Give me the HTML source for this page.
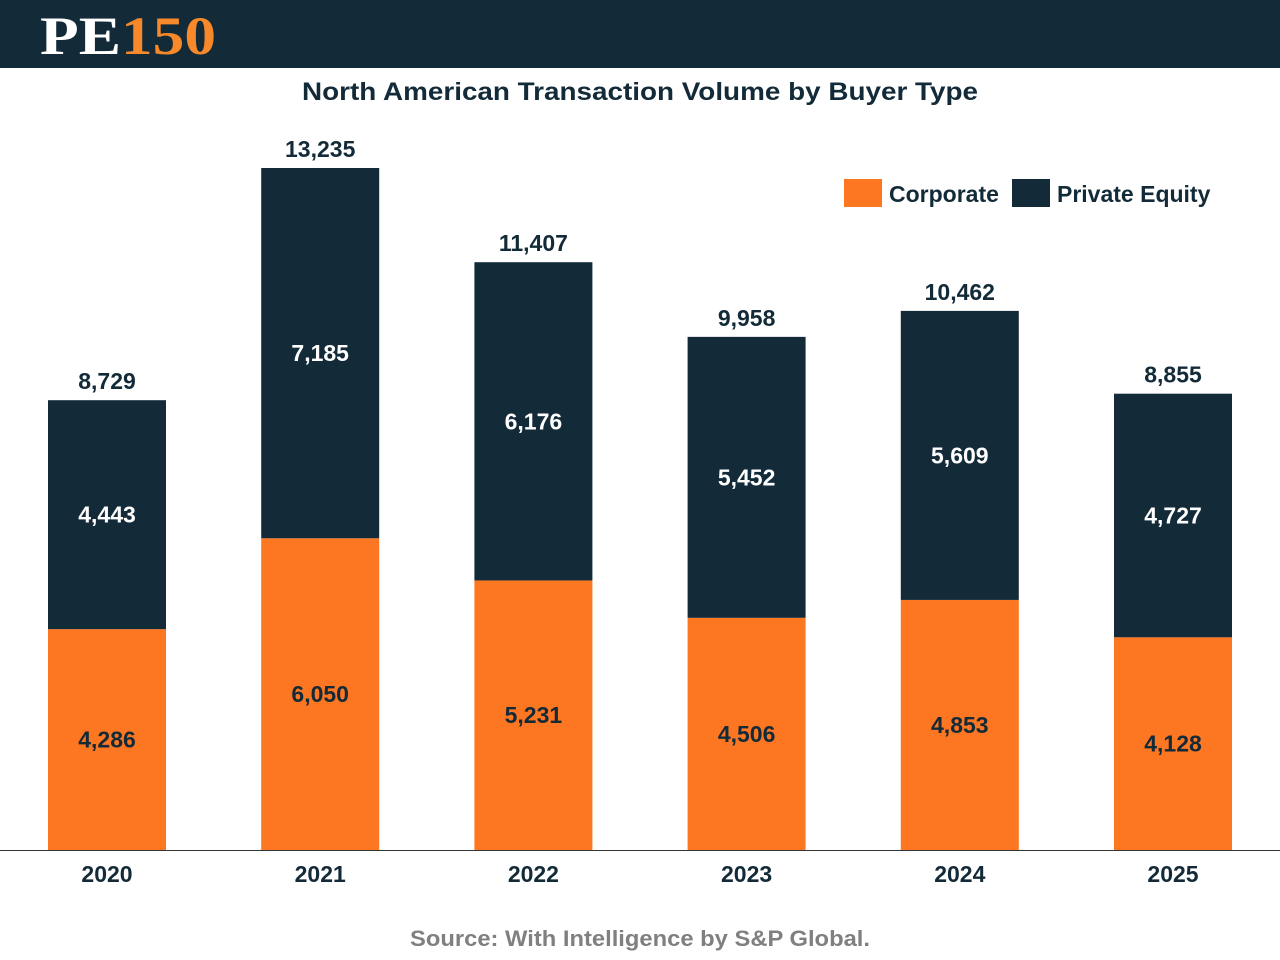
<!DOCTYPE html>
<html><head><meta charset="utf-8"><style>
body{margin:0;width:1280px;height:960px;background:#fff;font-family:"Liberation Sans",sans-serif;overflow:hidden}
#hdr{position:absolute;left:0;top:0;width:1280px;height:68px;background:#132a38}
</style></head><body>
<svg id="chart" width="1280" height="960" style="position:absolute;left:0;top:0">
<text x="302" y="100" font-size="25" font-weight="bold" fill="#132a38" textLength="676" lengthAdjust="spacingAndGlyphs">North American Transaction Volume by Buyer Type</text>
<g id="bars"></g>
<line x1="0" x2="1280" y1="850.5" y2="850.5" stroke="#333" stroke-width="1"/>
<g>
<rect x="844" y="179" width="38" height="28" fill="#fd7622"/>
<text x="889" y="202" font-size="23" font-weight="bold" fill="#132a38">Corporate</text>
<rect x="1012" y="179" width="38" height="28" fill="#132a38"/>
<text x="1057" y="202" font-size="23" font-weight="bold" fill="#132a38">Private Equity</text>
</g>
<text x="410" y="946" font-size="22" font-weight="bold" fill="#808080" textLength="460" lengthAdjust="spacingAndGlyphs">Source: With Intelligence by S&amp;P Global.</text>
</svg>
<div id="hdr">
<svg width="300" height="68" style="position:absolute;left:0;top:0">
<text x="40" y="54" font-family="Liberation Serif, serif" font-weight="bold" font-size="54" textLength="176" lengthAdjust="spacingAndGlyphs"><tspan fill="#fff">PE</tspan><tspan fill="#f7892a">150</tspan></text>
</svg>
</div>
<script>
const categories=["2020","2021","2022","2023","2024","2025"];
const corporate=[4286,6050,5231,4506,4853,4128];
const privateEquity=[4443,7185,6176,5452,5609,4727];
const totals=[8729,13235,11407,9958,10462,8855];
const base=850,scale=(850-168)/13235;
function y(v){return base-v*scale;}
function xc(i){return 107+i*213.2;}
const g=document.getElementById('bars');
const ns="http://www.w3.org/2000/svg";
function fmt(v){return v.toLocaleString('en-US');}
function rect(x,y0,w,h,fill,name){const r=document.createElementNS(ns,'rect');r.setAttribute('x',x);r.setAttribute('y',y0);r.setAttribute('width',w);r.setAttribute('height',h);r.setAttribute('fill',fill);


g.appendChild(r);}
function txt(x,y0,s,fill,size,name){const t=document.createElementNS(ns,'text');t.setAttribute('x',x);t.setAttribute('y',y0);t.setAttribute('text-anchor','middle');t.setAttribute('font-size',size);t.setAttribute('font-weight','bold');t.setAttribute('fill',fill);t.textContent=s;


g.appendChild(t);}
categories.forEach((c,i)=>{
 const cx=xc(i),w=118,x=cx-w/2;
 const c1=y(corporate[i]),t=y(corporate[i]+privateEquity[i]);
 rect(x,c1,w,base-c1,'#fd7622','bar-corporate-'+c);
 rect(x,t,w,c1-t,'#132a38','bar-private-equity-'+c);
 txt(cx,(c1+base)/2+8,fmt(corporate[i]),'#132a38',23,'value-corporate-'+c);
 txt(cx,(t+c1)/2+8,fmt(privateEquity[i]),'#fff',23,'value-private-equity-'+c);
 txt(cx,t-11,fmt(totals[i]),'#132a38',23,'value-total-'+c);
 txt(cx,882,c,'#132a38',23,'x-tick-'+c);
});
</script>
</body></html>
